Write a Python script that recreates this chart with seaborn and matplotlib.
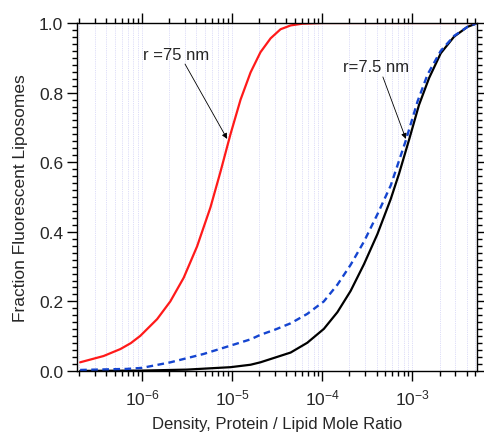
import matplotlib
matplotlib.use("Agg")
import matplotlib.pyplot as plt
import matplotlib.ticker as mticker
import seaborn as sns
import pandas as pd

# ---- data ----
x_r75 = [2.06e-7, 3.74e-7, 5.75e-7, 7.5e-7, 9.57e-7, 1.47e-6, 2.06e-6, 2.90e-6,
         4.08e-6, 5.74e-6, 7.41e-6, 9.57e-6, 1.24e-5, 1.60e-5, 2.06e-5, 2.67e-5,
         3.44e-5, 4.45e-5, 6.0e-5, 1.0e-4, 5.0e-3]
y_r75 = [0.025, 0.043, 0.063, 0.080, 0.101, 0.149, 0.200, 0.268,
         0.358, 0.470, 0.572, 0.680, 0.780, 0.858, 0.916, 0.956,
         0.982, 0.993, 0.998, 1.0, 1.0]

x_r7 = [2.06e-7, 1.0e-6, 3.16e-6, 9.6e-6, 1.6e-5, 2.06e-5, 4.45e-5, 6.8e-5,
        1.04e-4, 1.47e-4, 2.06e-4, 2.9e-4, 4.08e-4, 5.74e-4, 7.1e-4, 9.16e-4,
        1.18e-3, 1.53e-3, 2.06e-3, 2.9e-3, 4.08e-3, 5.06e-3]
y_r7 = [0.0003, 0.0012, 0.004, 0.011, 0.018, 0.025, 0.053, 0.081,
        0.121, 0.169, 0.230, 0.307, 0.393, 0.494, 0.567, 0.664,
        0.764, 0.842, 0.913, 0.961, 0.989, 0.998]

x_blue = [2.06e-7, 6.8e-7, 1.0e-6, 2.07e-6, 4.83e-6, 9.6e-6, 1.6e-5, 2.06e-5,
          3.0e-5, 4.45e-5, 6.8e-5, 1.04e-4, 1.47e-4, 2.06e-4, 2.9e-4, 4.08e-4,
          5.74e-4, 8.43e-4, 1.14e-3, 1.47e-3, 2.06e-3, 2.9e-3, 4.08e-3, 5.06e-3]
y_blue = [0.003, 0.006, 0.009, 0.025, 0.049, 0.073, 0.091, 0.104,
          0.119, 0.137, 0.164, 0.200, 0.248, 0.305, 0.372, 0.450,
          0.533, 0.662, 0.775, 0.852, 0.920, 0.963, 0.989, 0.998]

sns.set_style("ticks")
plt.rcParams["font.family"] = ["Liberation Sans", "DejaVu Sans"]
plt.rcParams["mathtext.fontset"] = "custom"
plt.rcParams["mathtext.rm"] = "Liberation Sans"
plt.rcParams["mathtext.it"] = "Liberation Sans:italic"
plt.rcParams["mathtext.bf"] = "Liberation Sans:bold"

fig = plt.figure(figsize=(4.85, 4.35), dpi=100)
ax = fig.add_axes([77 / 485, 63 / 435, 400 / 485, 348 / 435])

df_black = pd.DataFrame({"x": x_r7, "y": y_r7})
df_blue = pd.DataFrame({"x": x_blue, "y": y_blue})
df_red = pd.DataFrame({"x": x_r75, "y": y_r75})

sns.lineplot(data=df_black, x="x", y="y", ax=ax, color="black", lw=1.6,
             sort=False, estimator=None)
sns.lineplot(data=df_blue, x="x", y="y", ax=ax, color="#1545d0", lw=1.7,
             sort=False, estimator=None, linestyle=(0, (2.8, 1.9)))
sns.lineplot(data=df_red, x="x", y="y", ax=ax, color="#ff1a1a", lw=1.6,
             sort=False, estimator=None)

ax.set_xscale("log")
ax.set_xlim(1.9e-7, 5.2e-3)
ax.set_ylim(0, 1.0)

ax.xaxis.set_major_locator(mticker.LogLocator(base=10, numticks=20))
ax.xaxis.set_minor_locator(mticker.LogLocator(base=10, subs=range(2, 10), numticks=200))
ax.xaxis.set_minor_formatter(mticker.NullFormatter())
ax.yaxis.set_major_locator(mticker.MultipleLocator(0.2))
ax.yaxis.set_minor_locator(mticker.MultipleLocator(0.02))
ax.yaxis.set_major_formatter(mticker.FormatStrFormatter("%.1f"))

ax.grid(True, axis="x", which="both", color="#d2d2f6", linestyle=(0, (1, 1.2)), lw=0.6)
ax.grid(False, axis="y")
ax.set_axisbelow(True)

ax.tick_params(which="both", direction="out", top=True, right=True,
               labeltop=False, labelright=False, color="black", width=1.0)
ax.tick_params(which="major", length=7, labelsize=12.5)
ax.tick_params(axis="x", which="major", pad=5)
ax.tick_params(axis="y", which="major", pad=3)
ax.tick_params(which="minor", length=3.5)
for s in ax.spines.values():
    s.set_color("black")
    s.set_linewidth(1.0)

ax.set_xlabel("Density, Protein / Lipid Mole Ratio", fontsize=12, labelpad=6)
ax.set_ylabel("Fraction Fluorescent Liposomes", fontsize=12.5, labelpad=8)

arrow = dict(arrowstyle="-|>", color="black", lw=0.6, mutation_scale=8,
             shrinkA=0, shrinkB=0)
ax.text(2.4e-6, 0.91, "r =75 nm", ha="center", va="center", fontsize=12)
ax.annotate("", xy=(8.8e-6, 0.667), xytext=(3.0e-6, 0.882), arrowprops=arrow)
ax.text(3.98e-4, 0.874, "r=7.5 nm", ha="center", va="center", fontsize=12)
ax.annotate("", xy=(8.45e-4, 0.667), xytext=(4.7e-4, 0.845), arrowprops=arrow)

fig.savefig("out.png", dpi=100)
